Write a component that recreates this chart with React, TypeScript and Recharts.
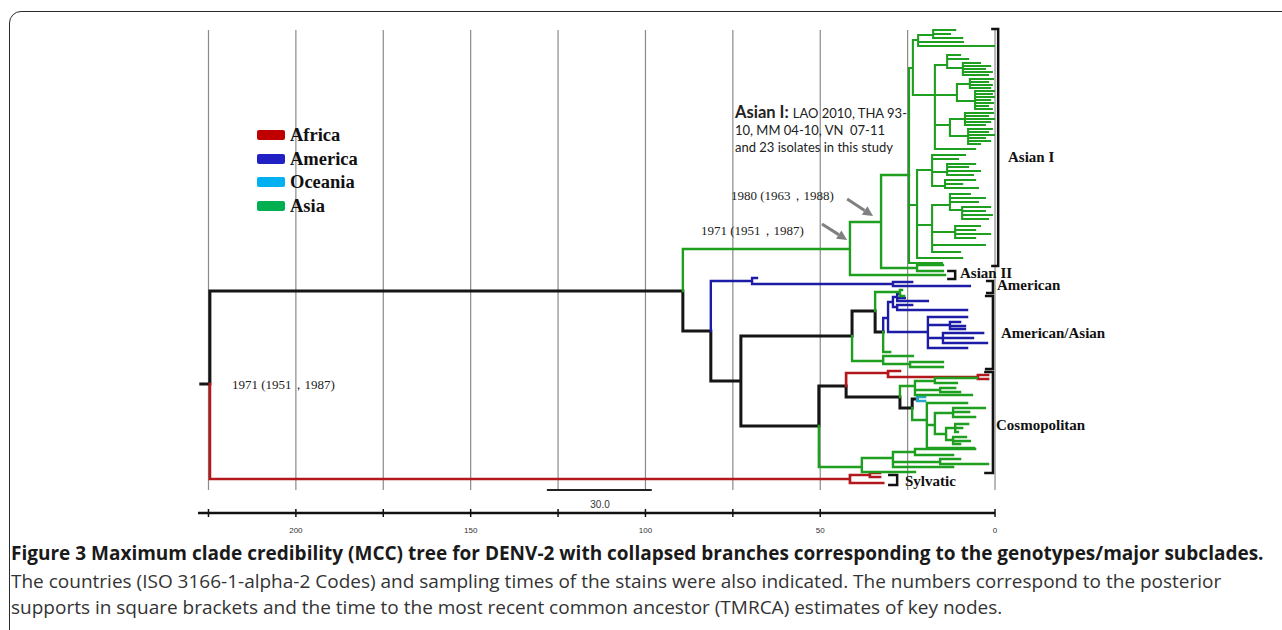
import React from 'react';
import { LineChart, Line, XAxis, YAxis, ReferenceLine } from 'recharts';

// x = years before present (axis runs right to left), y = row position in the tree
type Edge = [number, number, [number, number][]];

const backbone: Edge[] = [
  [227.2, 384, [[224.6, 384]]],
  [224.6, 384, [[89.3, 291]]],
  [89.3, 291, [[81.3, 331]]],
  [81.3, 331, [[72.7, 381]]],
  [72.7, 381, [[40.9, 336], [50.4, 426]]],
  [40.9, 336, [[34.3, 311]]],
  [34.3, 311, [[32.0, 332]]],
  [50.4, 426, [[42.6, 386]]],
  [42.6, 386, [[27.2, 397]]],
  [27.2, 397, [[23.7, 408]]],
  [23.7, 408, [[22.3, 399]]],
];

const africa: Edge[] = [
  [224.6, 384, [[41.5, 479]]],
  [41.5, 479, [[35.8, 475], [32.0, 483]]],
  [35.8, 475, [[32.9, 473], [32.9, 477]]],
  [42.6, 386, [[30.6, 373]]],
  [30.6, 373, [[27.2, 371], [4.9, 377]]],
  [4.9, 377, [[2.0, 375], [2.0, 379]]],
];

const oceania: Edge[] = [[22.3, 399, [[20.0, 397], [20.0, 401]]]];

const america: Edge[] = [
  [81.3, 331, [[69.5, 281]]],
  [69.5, 281, [[68.1, 278], [29.2, 284]]],
  [29.2, 284, [[23.7, 282], [7.2, 286]]],
  [32.0, 332, [[30.6, 318]]],
  [30.6, 318, [[29.2, 302], [19.2, 332]]],
  [29.2, 302, [[28.0, 297], [28.0, 307]]],
  [28.0, 297, [[27.2, 294], [25.8, 298], [19.2, 301]]],
  [28.0, 307, [[23.7, 305], [8.0, 310]]],
  [19.2, 332, [[8.0, 317], [12.9, 325], [14.9, 338], [8.0, 348]]],
  [12.9, 325, [[10.0, 322], [8.6, 326], [8.6, 329]]],
  [14.9, 338, [[3.4, 333], [6.3, 338], [2.3, 343]]],
];

const asia: Edge[] = [
  [89.3, 291, [[41.5, 249]]],
  [41.5, 249, [[32.6, 222], [14.3, 275]]],
  [32.6, 222, [[24.6, 175], [22.3, 268]]],
  [22.3, 268, [[14.9, 265], [14.9, 271]]],
  [40.9, 336, [[32.0, 361]]],
  [32.0, 361, [[23.5, 356], [24.3, 364]]],
  [24.3, 364, [[14.9, 362], [14.9, 367]]],
  [34.3, 311, [[27.2, 292]]],
  [27.2, 292, [[26.6, 290], [26.0, 296]]],
  [32.0, 332, [[30.0, 352]]],
  [50.4, 426, [[38.1, 467]]],
  [38.1, 467, [[29.2, 458], [22.9, 472]]],
  [29.2, 458, [[22.9, 452], [15.7, 462], [12.0, 467]]],
  [22.9, 452, [[5.7, 449], [12.0, 455]]],
  [15.7, 462, [[10.0, 459], [2.0, 464]]],
  [27.2, 397, [[22.9, 386]]],
  [22.9, 386, [[17.2, 381], [15.7, 390], [6.6, 395]]],
  [17.2, 381, [[5.2, 378], [10.9, 383]]],
  [15.7, 390, [[11.4, 388], [10.0, 392]]],
  [23.7, 408, [[19.5, 420]]],
  [19.5, 420, [[8.0, 403], [17.2, 425], [6.0, 448]]],
  [17.2, 425, [[12.0, 413], [14.0, 434]]],
  [12.0, 413, [[2.9, 408], [7.4, 412], [5.7, 417]]],
  [14.0, 434, [[11.4, 428], [12.0, 440]]],
  [11.4, 428, [[7.7, 424], [9.4, 428], [10.6, 432]]],
  [12.0, 440, [[8.3, 437], [7.2, 441], [10.0, 444]]],
];

const asianI: Edge[] = [
  [24.6, 175, [[23.5, 68], [22.3, 205], [15.2, 263]]],
  [23.5, 68, [[22.0, 40], [17.2, 95]]],
  [22.0, 40, [[17.7, 35], [9.2, 42], [0.3, 46]]],
  [17.7, 35, [[11.4, 30], [12.9, 34], [9.4, 38]]],
  [17.2, 95, [[13.7, 65], [10.9, 95], [12.9, 125], [5.7, 149]]],
  [13.7, 65, [[10.0, 55], [7.7, 59], [9.2, 68]]],
  [9.2, 68, [[4.3, 63], [1.4, 66], [2.9, 69], [0.9, 72], [2.0, 75]]],
  [10.9, 95, [[7.2, 84], [5.7, 101]]],
  [7.2, 84, [[0.6, 79], [2.0, 82], [0.9, 85], [1.4, 88]]],
  [5.7, 101, [[0.3, 91], [0.9, 94], [0.3, 97], [1.4, 100], [0.6, 103], [2.0, 106], [0.9, 109]]],
  [12.9, 125, [[8.6, 119], [7.7, 136]]],
  [8.6, 119, [[0.6, 113], [2.0, 116], [0.3, 119], [1.4, 122], [2.9, 125]]],
  [7.7, 136, [[0.9, 129], [2.0, 132], [0.3, 135], [2.9, 138], [1.4, 141], [4.3, 144]]],
  [22.3, 205, [[18.0, 170], [18.0, 225], [9.4, 258]]],
  [18.0, 170, [[8.6, 155], [10.6, 159], [13.7, 172], [14.3, 186]]],
  [13.7, 172, [[5.7, 164], [7.7, 167], [4.3, 171], [6.3, 175]]],
  [14.3, 186, [[5.7, 180], [9.4, 184], [4.9, 188]]],
  [18.0, 225, [[12.9, 205], [11.4, 232], [2.9, 245], [10.0, 252]]],
  [12.9, 205, [[7.2, 194], [2.9, 198], [4.9, 202], [9.4, 210]]],
  [9.4, 210, [[1.4, 207], [2.9, 211], [0.9, 215], [2.0, 219]]],
  [11.4, 232, [[4.3, 226], [5.7, 230], [1.4, 234], [5.7, 238]]],
];

// [hook end, bar, top row, bottom row]
const brackets: [number, number, number, number][] = [
  [1.1, -0.9, 29, 266],
  [13.7, 11.4, 271, 279],
  [2.6, 0.6, 281, 293],
  [2.9, 0.6, 296, 369],
  [3.1, 0.6, 372, 473],
  [30.6, 28.0, 475, 485],
];

const gridYears = [0, 25, 50, 75, 100, 125, 150, 175, 200, 225];
const axisTicks = [0, 50, 75, 100, 125, 150, 175, 200, 225];
const labelledTicks = [0, 50, 100, 150, 200];
const scaleBar = [128.2, 98.2];
const arrows: [number, number, number, number][] = [
  [42.3, 199, 34.9, 216],
  [49.5, 224, 42.3, 240],
];

const legendNames = ['Africa', 'America', 'Oceania', 'Asia'];
const legendColors = ['#c00000', '#2020c4', '#00b0f0', '#00b050'];

const series = [
  { name: 'backbone', edges: backbone, color: '#151515', width: 3 },
  { name: 'Africa', edges: africa, color: '#b3191c', width: 2.7 },
  { name: 'America', edges: america, color: '#1c1ca6', width: 2.4 },
  { name: 'Oceania', edges: oceania, color: '#25a7c6', width: 2.4 },
  { name: 'Asia', edges: asia, color: '#1f9f1f', width: 2.4 },
  { name: 'Asian I', edges: asianI, color: '#1f9f1f', width: 2.1 },
];

const toPath = (edges: Edge[]) => {
  const pts: { x: number; y: number | null }[] = [];
  edges.forEach(([px, py, kids]) =>
    kids.forEach(([cx, cy]) => {
      pts.push({ x: px, y: py }, { x: px, y: cy }, { x: cx, y: cy }, { x: cx, y: null });
    })
  );
  return pts;
};

const bracketPath = brackets.flatMap(([hook, bar, top, bottom]) => [
  { x: hook, y: top },
  { x: bar, y: top },
  { x: bar, y: bottom },
  { x: hook, y: bottom },
  { x: hook, y: null },
]);

const renderTick = (props: any) => {
  const { x, y, payload } = props;
  return (
    <g>
      <line x1={x} x2={x} y1={y - 4} y2={y + 4} stroke="#111" strokeWidth={1.5} />
      {labelledTicks.includes(payload.value) && (
        <text x={x} y={y + 20} textAnchor="middle" fontSize={8} fill="#333"
          fontFamily="'Liberation Sans Narrow', 'Liberation Sans', sans-serif">
          {payload.value}
        </text>
      )}
    </g>
  );
};

const arrowShape = (p: any) => {
  const { x1, y1, x2, y2 } = p;
  const a = Math.atan2(y2 - y1, x2 - x1);
  const bx = x2 - 10 * Math.cos(a);
  const by = y2 - 10 * Math.sin(a);
  const s = Math.sin(a) * 5;
  const c = Math.cos(a) * 5;
  return (
    <g>
      <line x1={x1} y1={y1} x2={bx} y2={by} stroke="#808080" strokeWidth={3} />
      <polygon points={`${x2},${y2} ${bx + s},${by - c} ${bx - s},${by + c}`} fill="#808080" />
    </g>
  );
};

const serif = "'Liberation Serif', 'Times New Roman', serif";
const sans = "'Open Sans', 'Noto Sans', sans-serif";

const Txt = ({ x, y, children, style }: any) => (
  <div style={{ position: 'absolute', left: x, top: y, transform: 'translateY(-50%)', whiteSpace: 'nowrap', lineHeight: 1, ...style }}>
    {children}
  </div>
);

const cladeStyle = { fontFamily: serif, fontWeight: 700, fontSize: 15, color: '#111' };
const nodeStyle = { fontFamily: serif, fontSize: 13, color: '#222' };

export default function App() {
  return (
    <div style={{ position: 'fixed', left: 0, top: 0, width: 1282, height: 630, overflow: 'hidden', background: '#fff' }}>
      <div style={{ position: 'absolute', left: 9, top: 11, width: 1320, height: 700, border: '1.6px solid #2b2b2b', borderRadius: 12 }} />
      <div style={{ position: 'absolute', left: 0, top: 0 }}>
        <LineChart width={1100} height={560} margin={{ top: 20, right: 84, bottom: 17, left: 198 }}>
          <XAxis type="number" dataKey="x" domain={[-6, 228]} reversed allowDataOverflow ticks={axisTicks}
            interval={0} axisLine={false} tickLine={false} tickSize={0} tickMargin={0} height={30} tick={renderTick} />
          <YAxis type="number" domain={[20, 513]} reversed hide />
          {gridYears.map((yr) => (
            <ReferenceLine key={`g${yr}`} segment={[{ x: yr, y: 30 }, { x: yr, y: 490 }]} stroke="#8a8a8a" strokeWidth={1.2} ifOverflow="visible" />
          ))}
          <ReferenceLine segment={[{ x: 228, y: 513 }, { x: 0, y: 513 }]} stroke="#111" strokeWidth={2.5} ifOverflow="visible" />
          <ReferenceLine segment={[{ x: scaleBar[0], y: 490 }, { x: scaleBar[1], y: 490 }]} stroke="#222" strokeWidth={2} ifOverflow="visible" />
          {arrows.map(([xa, ya, xb, yb], i) => (
            <ReferenceLine key={`a${i}`} segment={[{ x: xa, y: ya }, { x: xb, y: yb }]} shape={arrowShape} ifOverflow="visible" />
          ))}
          {series.map((s) => (
            <Line key={s.name} name={s.name} data={toPath(s.edges)} dataKey="y" type="linear" stroke={s.color}
              strokeWidth={s.width} strokeLinecap="square" strokeLinejoin="miter" dot={false} activeDot={false}
              connectNulls={false} isAnimationActive={false} />
          ))}
          <Line name="brackets" data={bracketPath} dataKey="y" type="linear" stroke="#111" strokeWidth={2.5}
            dot={false} activeDot={false} connectNulls={false} isAnimationActive={false} />
        </LineChart>
      </div>

      {legendNames.map((n, i) => (
        <React.Fragment key={n}>
          <div style={{ position: 'absolute', left: 257, top: 130 + i * 23.7, width: 28, height: 10, borderRadius: 2, background: legendColors[i] }} />
          <Txt x={290} y={135 + i * 23.7} style={{ fontFamily: serif, fontWeight: 700, fontSize: 18.5, color: '#111' }}>{n}</Txt>
        </React.Fragment>
      ))}

      <div style={{ position: 'absolute', left: 735, top: 104, fontFamily: 'Lato, sans-serif', fontSize: 13, lineHeight: '17px', color: '#222', whiteSpace: 'nowrap' }}>
        <span style={{ fontWeight: 700, fontSize: 16.5 }}>Asian I: </span>LAO 2010, THA 93-<br />
        10, MM 04-10, VN&nbsp; 07-11<br />
        and 23 isolates in this study
      </div>

      <Txt x={731} y={195} style={nodeStyle}>1980 (1963，1988)</Txt>
      <Txt x={701} y={230} style={nodeStyle}>1971 (1951，1987)</Txt>
      <Txt x={232} y={384} style={nodeStyle}>1971 (1951，1987)</Txt>

      <Txt x={1008} y={157} style={cladeStyle}>Asian I</Txt>
      <Txt x={960} y={273} style={cladeStyle}>Asian II</Txt>
      <Txt x={997} y={285} style={cladeStyle}>American</Txt>
      <Txt x={1001} y={333} style={cladeStyle}>American/Asian</Txt>
      <Txt x={996} y={425} style={cladeStyle}>Cosmopolitan</Txt>
      <Txt x={905} y={481} style={cladeStyle}>Sylvatic</Txt>

      <Txt x={600} y={505} style={{ fontFamily: "'Liberation Sans Narrow', 'Liberation Sans', sans-serif", fontSize: 10, color: '#333', transform: 'translate(-50%, -50%)' }}>30.0</Txt>

      <Txt x={11} y={553} style={{ fontFamily: sans, fontWeight: 700, fontSize: 19, color: '#1a1a1a' }}>
        Figure 3 Maximum clade credibility (MCC) tree for DENV-2 with collapsed branches corresponding to the genotypes/major subclades.
      </Txt>
      <Txt x={11} y={581} style={{ fontFamily: sans, fontSize: 19, color: '#333' }}>
        The countries (ISO 3166-1-alpha-2 Codes) and sampling times of the stains were also indicated. The numbers correspond to the posterior
      </Txt>
      <Txt x={11} y={607} style={{ fontFamily: sans, fontSize: 19, color: '#333' }}>
        supports in square brackets and the time to the most recent common ancestor (TMRCA) estimates of key nodes.
      </Txt>
    </div>
  );
}
